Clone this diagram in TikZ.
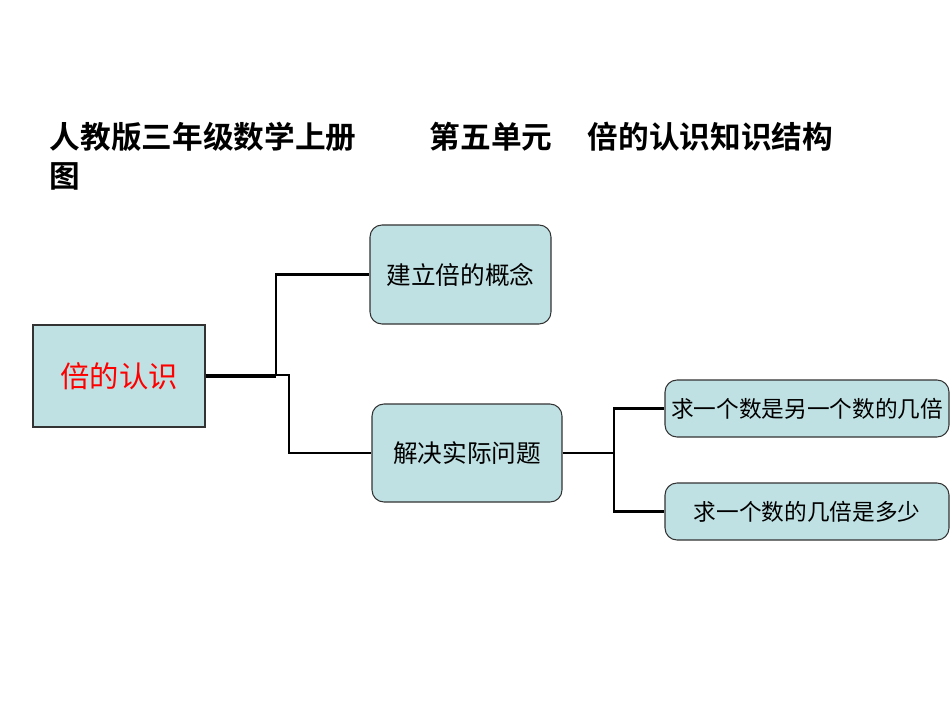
\documentclass[tikz,border=0pt]{standalone}
\usepackage{fontspec}
\setmainfont{Noto Sans CJK SC}
\newfontfamily\cjkb{Noto Sans CJK SC Bold}
\definecolor{boxfill}{HTML}{BFE1E3}
\begin{document}
\begin{tikzpicture}[x=0.75pt,y=-0.75pt,
  box/.style={draw=black!80,fill=boxfill,line width=0.8pt,inner sep=0pt},
  rbox/.style={box,rounded corners=9pt},
  conn/.style={line width=2pt}]
\useasboundingbox[fill=white] (0,0) rectangle (950,713);
\node[anchor=west,font=\cjkb\fontsize{23pt}{23pt}\selectfont] (t1) at (45,137) {人教版三年级数学上册};
\node[anchor=west,font=\cjkb\fontsize{23pt}{23pt}\selectfont] (t2) at (425,137) {第五单元};
\node[anchor=west,font=\cjkb\fontsize{23pt}{23pt}\selectfont] (t3) at (583,137) {倍的认识知识结构};
\node[anchor=west,font=\cjkb\fontsize{23pt}{23pt}\selectfont] (t4) at (45,176) {图};
\node[box,minimum width=172*0.75pt,minimum height=102*0.75pt,text=red,font=\fontsize{22pt}{22pt}\selectfont] (m) at (119,376) {倍的认识};
\node[rbox,minimum width=181*0.75pt,minimum height=99*0.75pt,font=\fontsize{18.5pt}{18.5pt}\selectfont] (b1) at (460.5,274.5) {建立倍的概念};
\node[rbox,minimum width=190*0.75pt,minimum height=98*0.75pt,font=\fontsize{18.5pt}{18.5pt}\selectfont] (b2) at (467,453) {解决实际问题};
\node[rbox,minimum width=284*0.75pt,minimum height=57*0.75pt,font=\fontsize{17pt}{17pt}\selectfont] (b3) at (807,408.5) {求一个数是另一个数的几倍};
\node[rbox,minimum width=284*0.75pt,minimum height=57*0.75pt,font=\fontsize{17pt}{17pt}\selectfont] (b4) at (807,511.5) {求一个数的几倍是多少};
\coordinate (j1) at (276,376);
\coordinate (j2) at (289,375);
\coordinate (j3) at (614,453);
\draw[conn,line width=2.6pt] (m.east) -- (j1);
\draw[conn] (j1) |- (b1.west);
\draw[conn] (m.east |- j2) -- (j2) |- (b2.west);
\draw[conn] (b2.east) -- (j3) |- (b3.west);
\draw[conn] (j3) |- (b4.west);
\end{tikzpicture}
\end{document}
